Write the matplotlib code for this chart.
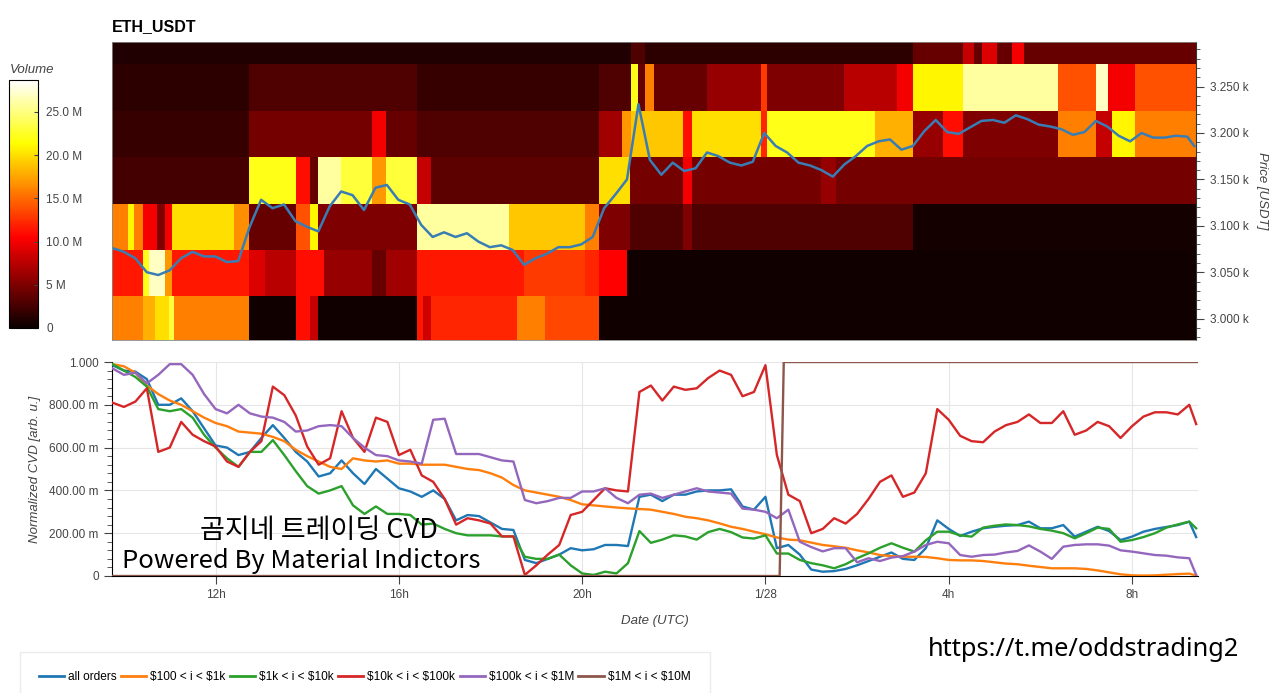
import matplotlib
matplotlib.use('Agg')
import matplotlib.pyplot as plt
import numpy as np
from matplotlib.lines import Line2D
from matplotlib.ticker import FuncFormatter, MultipleLocator

plt.rcParams['font.family'] = ['Liberation Sans', 'Noto Sans CJK KR', 'DejaVu Sans']

# time axis in hours since 1/27 00:00 UTC
t = np.append(np.arange(9.75, 33.3, 0.25), 33.4)
x_range = (9.74, 33.44)

# ---- top panel: volume heatmap per 50 USDT price band (values in M) ----
price_bands = [2974, 3024, 3074, 3124, 3174, 3224, 3274, 3324]

band0_edges = [9.7, 10.42, 10.68, 10.98, 11.10, 12.73, 13.76, 14.06, 14.24, 16.40, 16.55, 16.71, 18.59, 19.2, 20.38, 33.5]
band0_vol = [16, 18, 20, 23, 16, 0.3, 11, 8, 0.3, 11.5, 8.5, 12, 16, 13.5, 0.3]

band1_edges = [9.7, 10.42, 10.55, 10.90, 11.05, 12.73, 13.08, 13.76, 14.37, 15.42, 15.72, 16.40, 18.74, 20.09, 20.38, 20.99, 33.5]
band1_vol = [11.5, 22, 27, 17, 11.5, 9, 7.5, 11, 6, 4, 6.5, 11.5, 13, 12, 10.5, 0.3]

band2_edges = [9.7, 10.09, 10.22, 10.42, 10.72, 10.90, 11.05, 12.40, 12.73, 13.76, 14.06, 14.24, 16.40, 18.43, 20.09, 20.38, 21.06, 22.23, 22.41, 27.26, 33.5]
band2_vol = [16, 21, 16, 10, 5, 10, 20, 16.5, 4, 14, 21, 5, 26, 19, 16, 5, 3, 5, 3, 0.5]

band3_edges = [9.7, 12.73, 13.76, 14.06, 14.24, 14.74, 15.42, 15.72, 16.40, 16.71, 20.38, 21.06, 22.23, 22.41, 25.25, 25.58, 33.5]
band3_vol = [2.5, 22, 11, 4, 26, 23, 17, 23, 8, 3.5, 20, 4.5, 10, 4.5, 6, 4.5]

band4_edges = [9.7, 12.73, 15.42, 15.72, 16.40, 20.38, 20.90, 21.08, 22.23, 22.41, 23.92, 24.07, 26.43, 27.26, 27.91, 28.35, 30.43, 31.26, 31.61, 32.11, 33.5]
band4_vol = [2, 4.5, 10, 4, 3, 6.5, 17, 19, 11, 20, 12, 22, 18, 6, 11, 5, 16, 8, 21, 16]

band5_edges = [9.7, 12.73, 16.40, 20.38, 21.08, 21.23, 21.40, 21.58, 22.74, 23.92, 24.07, 25.75, 26.91, 27.26, 28.35, 30.43, 31.26, 31.52, 32.11, 33.5]
band5_vol = [1.5, 3, 2, 3, 22, 4, 16, 4, 6, 13, 5, 7.5, 10, 21, 26, 14, 27, 10, 14]

band6_edges = [9.7, 21.08, 21.40, 27.26, 28.35, 28.59, 28.77, 29.09, 29.42, 29.68, 33.5]
band6_vol = [1, 3, 1.5, 4, 8, 4, 9, 4, 10, 4]

price = [3076, 3072, 3065, 3050, 3047, 3052, 3065, 3072, 3067, 3067, 3061, 3062,
         3099, 3128, 3119, 3123, 3105, 3099, 3094, 3121, 3137, 3133, 3117, 3141,
         3144, 3128, 3123, 3101, 3088, 3093, 3088, 3092, 3083, 3077, 3079, 3074,
         3058, 3065, 3070, 3077, 3077, 3080, 3088, 3119, 3134, 3150,
         3231, 3171, 3155, 3168, 3159, 3162, 3179, 3175, 3168, 3165, 3169, 3200,
         3186, 3179, 3168, 3165, 3160, 3153, 3166, 3175, 3186, 3191, 3193, 3182,
         3186, 3202, 3214, 3201, 3199, 3206, 3213, 3214, 3211, 3219, 3215, 3209,
         3207, 3204, 3198, 3201, 3213, 3207, 3197, 3191, 3200, 3195, 3195, 3197,
         3196, 3186]

# ---- bottom panel: normalized CVD ----
cvd_all = [0.985, 0.96, 0.955, 0.92, 0.80, 0.80, 0.83, 0.77, 0.69, 0.61, 0.60, 0.565,
           0.58, 0.645, 0.705, 0.645, 0.58, 0.535, 0.465, 0.48, 0.54, 0.48, 0.43, 0.50,
           0.455, 0.41, 0.395, 0.37, 0.40, 0.36, 0.26, 0.285,
           0.28, 0.25, 0.22, 0.215, 0.075, 0.06, 0.08, 0.10, 0.13, 0.12, 0.125, 0.145,
           0.145, 0.14, 0.37, 0.38, 0.35, 0.38, 0.38, 0.395, 0.40, 0.40, 0.405, 0.325,
           0.31, 0.37, 0.13, 0.145, 0.10, 0.03, 0.02,
           0.023, 0.033, 0.05, 0.07, 0.09, 0.11, 0.08, 0.075, 0.13, 0.26, 0.22, 0.187,
           0.207, 0.223, 0.23, 0.235, 0.238, 0.254, 0.223, 0.223, 0.238, 0.184, 0.207, 0.23,
           0.21, 0.168, 0.184, 0.207, 0.22, 0.229, 0.238, 0.254, 0.182]
cvd_100_1k = [0.99, 0.98, 0.95, 0.89, 0.85, 0.82, 0.80, 0.77, 0.74, 0.715, 0.70, 0.675,
              0.67, 0.665, 0.65, 0.63, 0.59, 0.56, 0.535, 0.51, 0.50, 0.55, 0.54, 0.535,
              0.54, 0.525, 0.525, 0.52, 0.52, 0.52, 0.51, 0.50,
              0.495, 0.48, 0.46, 0.425, 0.40, 0.39, 0.38, 0.37, 0.355, 0.335, 0.33, 0.325,
              0.32, 0.316, 0.313, 0.31, 0.30, 0.29, 0.277, 0.27, 0.26, 0.246, 0.23, 0.22,
              0.207, 0.195, 0.18, 0.17, 0.167, 0.156, 0.145,
              0.139, 0.132, 0.12, 0.11, 0.098, 0.093, 0.09, 0.09, 0.089, 0.083, 0.075, 0.073,
              0.073, 0.07, 0.064, 0.058, 0.055, 0.048, 0.042, 0.036, 0.036, 0.036, 0.033, 0.026,
              0.017, 0.008, 0.003, 0.002, 0.003, 0.006, 0.009, 0.011, 0.002]
cvd_1k_10k = [0.99, 0.96, 0.93, 0.885, 0.78, 0.77, 0.78, 0.74, 0.66, 0.60, 0.55, 0.51,
              0.58, 0.58, 0.635, 0.565, 0.49, 0.42, 0.385, 0.40, 0.42, 0.33, 0.29, 0.325,
              0.29, 0.29, 0.285, 0.24, 0.245, 0.22, 0.20, 0.19,
              0.19, 0.19, 0.185, 0.185, 0.09, 0.08, 0.08, 0.10, 0.05, 0.012, 0.005, 0.02,
              0.012, 0.06, 0.21, 0.155, 0.17, 0.19, 0.185, 0.17, 0.205, 0.22, 0.205, 0.18,
              0.175, 0.19, 0.105, 0.105, 0.075, 0.06, 0.05,
              0.036, 0.055, 0.083, 0.106, 0.132, 0.153, 0.132, 0.114, 0.167, 0.207, 0.207, 0.19,
              0.184, 0.226, 0.235, 0.241, 0.238, 0.232, 0.22, 0.212, 0.2, 0.176, 0.2, 0.226,
              0.22, 0.16, 0.168, 0.182, 0.2, 0.226, 0.241, 0.254, 0.223]
cvd_10k_100k = [0.81, 0.79, 0.815, 0.877, 0.58, 0.60, 0.72, 0.66, 0.63, 0.605, 0.535, 0.51,
                0.58, 0.63, 0.885, 0.845, 0.75, 0.605, 0.52, 0.55, 0.77, 0.645, 0.58, 0.74,
                0.72, 0.565, 0.59, 0.47, 0.44, 0.36, 0.24, 0.27,
                0.26, 0.245, 0.185, 0.185, 0.005, 0.05, 0.10, 0.145, 0.285, 0.30, 0.355, 0.41,
                0.40, 0.395, 0.86, 0.89, 0.82, 0.885, 0.87, 0.877, 0.925, 0.96, 0.94, 0.84,
                0.86, 0.985, 0.565, 0.38, 0.35, 0.20, 0.22,
                0.27, 0.245, 0.29, 0.36, 0.44, 0.47, 0.37, 0.39, 0.48, 0.78, 0.73, 0.655,
                0.63, 0.625, 0.675, 0.705, 0.72, 0.755, 0.715, 0.715, 0.77, 0.66, 0.68, 0.72,
                0.70, 0.645, 0.70, 0.745, 0.765, 0.765, 0.755, 0.80, 0.71]
cvd_100k_1m = [0.97, 0.94, 0.95, 0.90, 0.94, 0.99, 0.99, 0.94, 0.85, 0.78, 0.76, 0.80,
               0.76, 0.745, 0.74, 0.72, 0.675, 0.68, 0.70, 0.705, 0.70, 0.645, 0.60, 0.565,
               0.56, 0.54, 0.535, 0.525, 0.73, 0.735, 0.57, 0.57,
               0.57, 0.555, 0.54, 0.535, 0.355, 0.34, 0.35, 0.365, 0.365, 0.395, 0.395, 0.41,
               0.365, 0.34, 0.38, 0.385, 0.365, 0.38, 0.395, 0.41, 0.395, 0.39, 0.385, 0.315,
               0.31, 0.30, 0.27, 0.31, 0.16, 0.135, 0.115,
               0.13, 0.13, 0.064, 0.083, 0.07, 0.086, 0.093, 0.114, 0.145, 0.16, 0.153, 0.098,
               0.09, 0.098, 0.10, 0.11, 0.117, 0.143, 0.114, 0.08, 0.137, 0.145, 0.148, 0.148,
               0.142, 0.12, 0.114, 0.106, 0.098, 0.095, 0.087, 0.083, 0.005]
# the $1M-$10M bucket only has a step right after midnight
t_1m_10m = [9.74, 24.31, 24.40, 33.44]
cvd_1m_10m = [0, 0, 1, 1]

series_labels = ['all orders', r'\$100 < i < \$1k', r'\$1k < i < \$10k',
                 r'\$10k < i < \$100k', r'\$100k < i < \$1M', r'\$1M < i < \$10M']
series_colors = ['#1f77b4', '#ff7f0e', '#2ca02c', '#d62728', '#9467bd', '#8c564b']

cbar_ticks = [0, 5, 10, 15, 20, 25]
cbar_labels = ['0', '5 M', '10.0 M', '15.0 M', '20.0 M', '25.0 M']
cvd_ticks = [0, 0.2, 0.4, 0.6, 0.8, 1.0]
cvd_tick_labels = ['0', '200.00 m', '400.00 m', '600.00 m', '800.00 m', '1.000']
date_ticks = [12, 16, 20, 24, 28, 32]
date_labels = ['12h', '16h', '20h', '1/28', '4h', '8h']

W, H = 1280, 693
fig = plt.figure(figsize=(W / 100, H / 100), dpi=100)


def box(x0, y0, x1, y1):
    return [x0 / W, 1 - y1 / H, (x1 - x0) / W, (y1 - y0) / H]


# heatmap
ax1 = fig.add_axes(box(112, 42, 1196, 340))
bands = [(band0_edges, band0_vol), (band1_edges, band1_vol), (band2_edges, band2_vol),
         (band3_edges, band3_vol), (band4_edges, band4_vol), (band5_edges, band5_vol),
         (band6_edges, band6_vol)]
for i, (edges, vol) in enumerate(bands):
    mesh = ax1.pcolormesh(edges, price_bands[i:i + 2], [vol], cmap='hot',
                          vmin=0, vmax=28.7, shading='flat')
ax1.plot(t, price, color='#3a7db5', lw=1.8)
ax1.set_xlim(*x_range)
ax1.set_ylim(2977, 3298)
ax1.yaxis.tick_right()
ax1.yaxis.set_label_position('right')
ax1.yaxis.set_major_locator(MultipleLocator(50))
ax1.yaxis.set_minor_locator(MultipleLocator(10))
ax1.yaxis.set_major_formatter(FuncFormatter(lambda v, _: f'{v / 1000:.3f} k'))
ax1.tick_params(axis='y', which='major', length=6, labelsize=8.5, colors='#444444', pad=4)
ax1.tick_params(axis='y', which='minor', length=3, colors='#444444')
ax1.tick_params(axis='x', which='both', bottom=False, labelbottom=False)
ax1.set_ylabel('Price [USDT]', rotation=270, style='italic', fontsize=9.5,
               color='#444444', labelpad=14)
for s in ['left', 'top', 'bottom']:
    ax1.spines[s].set_color('#888888')
    ax1.spines[s].set_linewidth(0.6)
ax1.spines['right'].set_color('#333333')
ax1.set_title('ETH_USDT', loc='left', fontweight='bold', fontsize=11.5, pad=8)

# colorbar
cax = fig.add_axes(box(9, 80, 38, 328))
cb = fig.colorbar(mesh, cax=cax, ticks=cbar_ticks)
cb.ax.set_yticklabels(cbar_labels)
cb.ax.tick_params(length=3, direction='in', labelsize=8.5, colors='#444444', pad=6)
cb.outline.set_linewidth(0.8)
fig.text(10 / W, 1 - 70 / H, 'Volume', style='italic', fontsize=9.5,
         color='#444444', va='center')

# CVD lines
ax2 = fig.add_axes(box(112, 362, 1198, 576))
cvd_series = [cvd_all, cvd_100_1k, cvd_1k_10k, cvd_10k_100k, cvd_100k_1m]
for vals, col in zip(cvd_series, series_colors):
    ax2.plot(t, vals, color=col, lw=1.7, zorder=3)
ax2.plot(t_1m_10m, cvd_1m_10m, color=series_colors[5], lw=1.7, zorder=3)
ax2.set_xlim(*x_range)
ax2.set_ylim(0, 1)
ax2.set_yticks(cvd_ticks)
ax2.set_yticklabels(cvd_tick_labels)
ax2.yaxis.set_minor_locator(MultipleLocator(0.04))
ax2.set_xticks(date_ticks)
ax2.set_xticklabels(date_labels)
ax2.grid(True, color='#e6e6e6', lw=0.8, zorder=0)
ax2.set_axisbelow(True)
for s in ['top', 'right']:
    ax2.spines[s].set_visible(False)
ax2.tick_params(axis='both', which='major', length=6, labelsize=8.5, colors='#444444')
ax2.tick_params(axis='y', which='minor', length=3.5, colors='#444444')
ax2.set_ylabel('Normalized CVD [arb. u.]', style='italic', fontsize=9.5,
               color='#444444', labelpad=6)
ax2.set_xlabel('Date (UTC)', style='italic', fontsize=9.5, color='#444444', labelpad=10)

fig.text(200 / W, 1 - 530 / H, '곰지네 트레이딩 CVD', family='Noto Sans CJK KR',
         fontsize=19.5, va='center', color='black')
fig.text(122 / W, 1 - 561 / H, 'Powered By Material Indictors', family='Noto Sans CJK KR',
         fontsize=18.4, va='center', color='black')
fig.text(928 / W, 1 - 649 / H, 'https://t.me/oddstrading2', family='Noto Sans',
         fontsize=18.3, va='center', color='black')

handles = [Line2D([], [], color=c, lw=2) for c in series_colors]
fig.legend(handles, series_labels, loc='upper left', bbox_to_anchor=(20 / W, 1 - 652 / H),
           borderaxespad=0, ncol=6, fontsize=8.6, frameon=True, fancybox=False,
           edgecolor='#e6e6e6', handlelength=2.1, handletextpad=0.35,
           columnspacing=0.35, borderpad=1.6)

fig.savefig('out.png', dpi=100)
